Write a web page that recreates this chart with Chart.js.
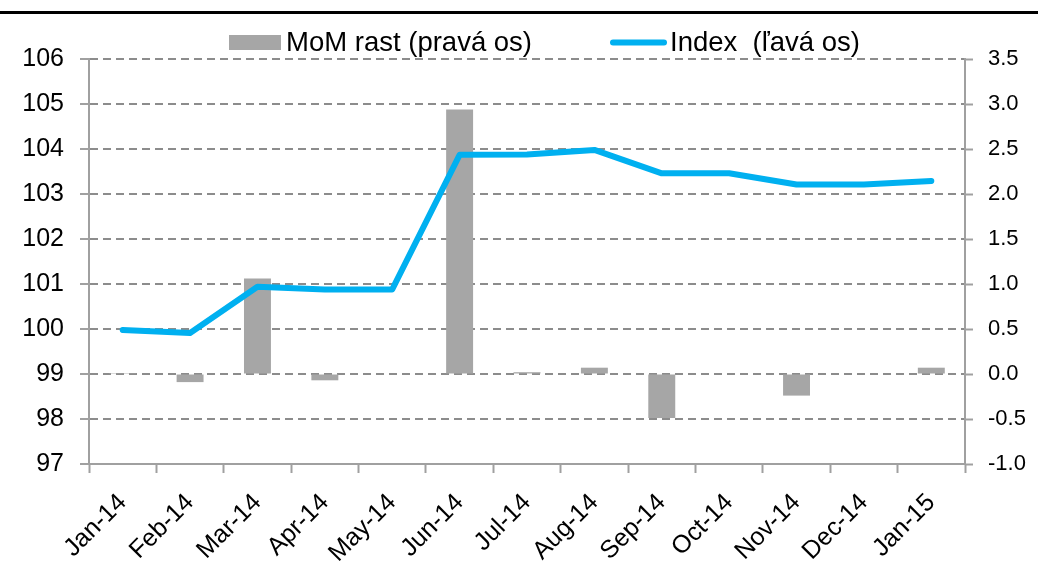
<!DOCTYPE html>
<html>
<head>
<meta charset="utf-8">
<script src="https://cdn.jsdelivr.net/npm/chart.js@4/dist/chart.umd.min.js"></script>
<style>
html,body{margin:0;padding:0;background:#fff;overflow:hidden}
#wrap{position:relative;width:1038px;height:575px}
#topline{position:absolute;left:0;top:11px;width:1038px;height:3px;background:#000}
canvas{position:absolute;left:0;top:0}
</style>
</head>
<body>
<div id="wrap"><canvas id="c" width="1038" height="575"></canvas><div id="topline"></div></div>
<script>
const categories = ['Jan-14','Feb-14','Mar-14','Apr-14','May-14','Jun-14','Jul-14','Aug-14','Sep-14','Oct-14','Nov-14','Dec-14','Jan-15'];
const indexValues = [99.98, 99.91, 100.94, 100.88, 100.88, 103.87, 103.88, 103.98, 103.46, 103.46, 103.21, 103.21, 103.29];
const momValues = [0.01, -0.09, 1.06, -0.07, 0, 2.94, 0.02, 0.07, -0.49, 0, -0.24, 0, 0.07];
const momLabel = 'MoM rast (pravá os)';
const indexLabel = 'Index  (ľavá os)';
const leftAxisMin = 97, leftAxisMax = 106, leftAxisStep = 1;
const rightAxisMin = -1, rightAxisMax = 3.5, rightAxisStep = 0.5;

const FONT = '"Liberation Sans", Arial, Helvetica, sans-serif';
const AXIS_COLOR = '#a0a0a0';
const GRID_COLOR = '#8c8c8c';

const customLegend = {
  id: 'customLegend',
  afterDraw(chart) {
    const ctx = chart.ctx;
    const ds = chart.data.datasets;
    ctx.save();
    ctx.font = '27.5px ' + FONT;
    ctx.textBaseline = 'alphabetic';
    ctx.textAlign = 'left';
    // bar item
    ctx.fillStyle = ds[0].backgroundColor;
    ctx.fillRect(229, 35, 52, 15);
    ctx.fillStyle = '#000';
    ctx.fillText(ds[0].label, 286, 51);
    // line item
    ctx.strokeStyle = ds[1].borderColor;
    ctx.lineWidth = 6;
    ctx.lineCap = 'round';
    ctx.beginPath();
    ctx.moveTo(613, 42.5);
    ctx.lineTo(664, 42.5);
    ctx.stroke();
    ctx.fillText(ds[1].label, 670, 51);
    ctx.restore();
  }
};

new Chart(document.getElementById('c'), {
  type: 'bar',
  data: {
    labels: categories,
    datasets: [
      {
        type: 'bar',
        label: momLabel,
        data: momValues,
        yAxisID: 'y1',
        backgroundColor: '#a6a6a6',
        borderWidth: 0,
        barPercentage: 0.4,
        categoryPercentage: 1,
        order: 1
      },
      {
        type: 'line',
        label: indexLabel,
        data: indexValues,
        yAxisID: 'y',
        borderColor: '#00b0f0',
        backgroundColor: '#00b0f0',
        borderWidth: 6,
        pointRadius: 0,
        tension: 0,
        fill: false,
        borderCapStyle: 'round',
        borderJoinStyle: 'round',
        order: 0
      }
    ]
  },
  options: {
    responsive: false,
    animation: false,
    devicePixelRatio: 1,
    layout: { padding: { top: 59, left: 0, right: 0, bottom: 0 } },
    plugins: {
      legend: { display: false },
      tooltip: { enabled: false },
      title: { display: false }
    },
    scales: {
      x: {
        offset: true,
        grid: {
          offset: true,
          drawOnChartArea: false,
          drawTicks: true,
          tickLength: 9,
          tickColor: AXIS_COLOR,
          tickWidth: 2,
          color: AXIS_COLOR
        },
        border: { display: true, color: AXIS_COLOR, width: 2 },
        ticks: {
          color: '#000',
          font: { size: 25, family: FONT },
          minRotation: 45,
          maxRotation: 45,
          autoSkip: false,
          padding: 15
        },
        afterFit(s) { s.height = 111; }
      },
      y: {
        position: 'left',
        min: leftAxisMin,
        max: leftAxisMax,
        ticks: {
          stepSize: leftAxisStep,
          color: '#000',
          font: { size: 25, family: FONT },
          padding: 16
        },
        grid: {
          color: GRID_COLOR,
          lineWidth: 2,
          drawTicks: true,
          tickLength: 9,
          tickColor: AXIS_COLOR,
          tickWidth: 2
        },
        border: { display: true, color: AXIS_COLOR, width: 2, dash: [8, 5] },
        afterFit(s) { s.width = 89; }
      },
      y1: {
        position: 'right',
        min: rightAxisMin,
        max: rightAxisMax,
        ticks: {
          stepSize: rightAxisStep,
          color: '#000',
          font: { size: 22, family: FONT },
          padding: 15,
          callback: v => Number(v).toFixed(1)
        },
        grid: {
          drawOnChartArea: false,
          drawTicks: true,
          tickLength: 8,
          tickColor: AXIS_COLOR,
          tickWidth: 2
        },
        border: { display: true, color: AXIS_COLOR, width: 2 },
        afterFit(s) { s.width = 73; }
      }
    }
  },
  plugins: [customLegend]
});
</script>
</body>
</html>
